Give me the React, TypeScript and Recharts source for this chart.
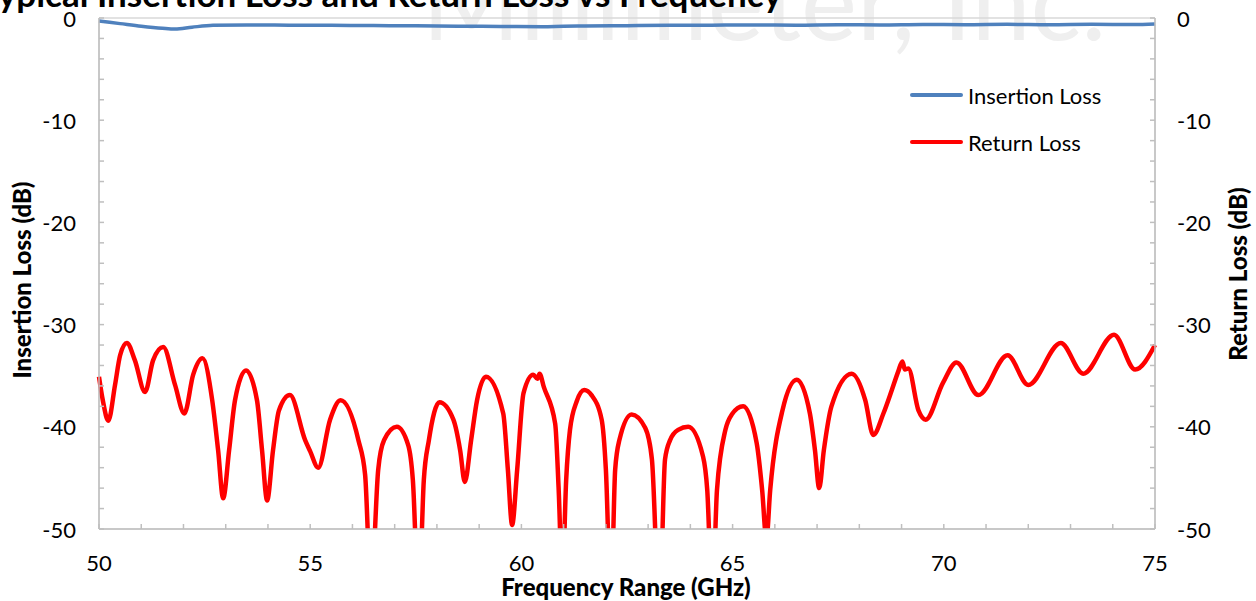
import React from 'react'
import { LineChart, Line, XAxis, YAxis, CartesianGrid, Legend } from 'recharts'

// return loss trace (GHz / dB)
const rlFreq = [
  50.0, 50.09, 50.22, 50.38, 50.5, 50.66, 50.85, 51.09, 51.28, 51.52, 51.8, 52.02, 52.23, 52.45,
  52.68, 52.82, 52.94, 53.08, 53.22, 53.48, 53.74, 53.86, 53.98, 54.12, 54.26, 54.52, 54.88, 55.0,
  55.19, 55.47, 55.72, 56.14, 56.3, 56.44, 56.61, 56.75, 57.05, 57.32, 57.43, 57.57, 57.69, 57.81,
  58.06, 58.39, 58.55, 58.66, 58.81, 58.95, 59.16, 59.57, 59.68, 59.78, 59.9, 60.05, 60.28, 60.38,
  60.43, 60.53, 60.8, 60.88, 60.97, 61.06, 61.15, 61.31, 61.49, 61.66, 61.9, 62.0, 62.12, 62.22,
  62.32, 62.61, 62.93, 63.09, 63.27, 63.4, 63.52, 63.71, 63.95, 64.3, 64.4, 64.52, 64.63, 64.83,
  64.98, 65.25, 65.57, 65.7, 65.8, 65.89, 66.18, 66.52, 66.83, 66.95, 67.05, 67.16, 67.34, 67.82,
  68.14, 68.33, 68.57, 68.77, 68.92, 69.02, 69.08, 69.16, 69.4, 69.57, 69.98, 70.3, 70.82, 71.51,
  72.0, 72.77, 73.3, 74.03, 74.53, 75.0,
]
const rlLoss = [
  -35.1, -37.4, -39.4, -35.9, -33.0, -31.8, -33.5, -36.6, -33.5, -32.2, -35.9, -38.7, -34.9, -33.3,
  -37.4, -42.3, -47.0, -42.3, -37.4, -34.5, -37.4, -42.3, -47.2, -42.3, -38.4, -36.9, -41.3, -42.4,
  -44.0, -39.3, -37.4, -41.3, -44.7, -56, -44.2, -41.3, -40.0, -41.8, -45.2, -57, -45.2, -41.3,
  -37.6, -39.3, -42.3, -45.4, -41.3, -37.4, -35.1, -38.7, -44.2, -49.6, -44.2, -36.7, -34.9, -35.3,
  -34.8, -36.1, -39.7, -45.9, -55, -45.2, -40.3, -37.5, -36.4, -36.9, -39.3, -44.2, -57, -44.2,
  -41.3, -38.8, -40.1, -43.2, -58, -43.2, -41.3, -40.3, -40.0, -42.9, -46.2, -57, -46.2, -40.3,
  -38.8, -38.0, -41.6, -46.2, -51, -46.2, -38.4, -35.4, -38.7, -42.3, -46.0, -42.3, -38.0, -34.8,
  -37.4, -40.8, -38.7, -36.4, -34.6, -33.6, -34.4, -34.3, -38.4, -39.3, -35.7, -33.7, -36.9, -33.0,
  -35.9, -31.8, -34.8, -31.0, -34.4, -32.0,
]

// insertion loss trace
const ilFreq = [
  50.0, 50.5, 51.0, 51.5, 51.8, 52.2, 52.7, 53.5, 54.5, 55.5, 56.5, 57.5, 58.5, 59.5, 60.5, 61.0,
  61.5, 62.5, 63.5, 64.5, 65.5, 66.5, 67.5, 68.5, 69.5, 70.5, 71.5, 72.5, 73.5, 74.5, 75.0,
]
const ilLoss = [
  -0.3, -0.55, -0.8, -1.0, -1.08, -0.9, -0.72, -0.68, -0.7, -0.72, -0.74, -0.76, -0.8, -0.82,
  -0.85, -0.8, -0.78, -0.75, -0.72, -0.7, -0.68, -0.7, -0.66, -0.68, -0.63, -0.66, -0.62, -0.66,
  -0.62, -0.64, -0.58,
]

const xTicks = [
  50, 51, 52, 53, 54, 55, 56, 57, 58, 59, 60, 61, 62, 63, 64, 65, 66, 67, 68, 69, 70, 71, 72, 73, 74, 75,
]
const xMajor = [50, 55, 60, 65, 70, 75]
const yTicks = [
  0, -2, -4, -6, -8, -10, -12, -14, -16, -18, -20, -22, -24, -26, -28, -30, -32, -34, -36, -38,
  -40, -42, -44, -46, -48, -50,
]
const yMajor = [0, -10, -20, -30, -40, -50]

const rlData = rlFreq.map((f, i) => ({ f, v: rlLoss[i] }))
const ilData = ilFreq.map((f, i) => ({ f, v: ilLoss[i] }))

const FONT = 'Lato, "Open Sans", sans-serif'
const AXIS = '#bfbfbf'
const GRID = '#d9d9d9'

const XTick = (props: any) => {
  const { x, y, payload } = props
  return (
    <g>
      <line x1={x} x2={x} y1={y} y2={y - 5} stroke={AXIS} strokeWidth={1.5} />
      {payload.value % 5 === 0 && (
        <text x={x} y={y + 33} textAnchor="middle" dominantBaseline="central" fontFamily={FONT} fontSize={22} fill="#000">
          {payload.value}
        </text>
      )}
    </g>
  )
}

const YTick = (props: any) => {
  const { x, y, payload, side } = props
  const dir = side === 'left' ? 1 : -1
  return (
    <g>
      <line x1={x} x2={x + dir * 5} y1={y} y2={y} stroke={AXIS} strokeWidth={1.5} />
      {payload.value % 10 === 0 && (
        <text
          x={side === 'left' ? x - 23 : x + 22}
          y={y}
          textAnchor={side === 'left' ? 'end' : 'start'}
          dominantBaseline="central"
          fontFamily={FONT}
          fontSize={22}
          fill="#000"
        >
          {payload.value}
        </text>
      )}
    </g>
  )
}

const AxisTitle = (props: any) => {
  const { viewBox, value, dx, dy, rotate } = props
  const cx = viewBox.x + dx
  const cy = viewBox.y + dy
  return (
    <text
      x={cx}
      y={cy}
      transform={rotate ? `rotate(-90 ${cx} ${cy})` : undefined}
      textAnchor="middle"
      dominantBaseline="central"
      fontFamily={FONT}
      fontWeight={900}
      fontSize={24}
      fill="#000"
    >
      {value}
    </text>
  )
}

const LegendBox = (props: any) => {
  const { payload } = props
  return (
    <div style={{ background: '#fff', width: 217, height: 95, position: 'relative', fontFamily: FONT, fontSize: 22 }}>
      {(payload || []).map((item: any, i: number) => (
        <div key={item.value} style={{ position: 'absolute', left: 17, top: 23 + i * 47 - 14, height: 28, display: 'flex', alignItems: 'center' }}>
          <div style={{ width: 53, height: 4, borderRadius: 2, background: item.color }} />
          <span style={{ marginLeft: 5, color: '#000' }}>{item.value}</span>
        </div>
      ))}
    </div>
  )
}

export default function App() {
  return (
    <div style={{ position: 'absolute', left: 0, top: 0, width: 1256, height: 601, background: '#fff', overflow: 'hidden' }}>
      <svg width={1256} height={601} style={{ position: 'absolute', left: 0, top: 0 }}>
        <text x={422} y={40} fontFamily={FONT} fontSize={106} fill="#efefef">
          Millimeter, Inc.
        </text>
      </svg>
      <div style={{ position: 'absolute', left: 0, top: 0 }}>
        <LineChart width={1256} height={601} margin={{ top: 18, right: 0, bottom: 0, left: 0 }}>
          <XAxis xAxisId="grid" type="number" dataKey="f" domain={[50, 75]} ticks={xMajor} height={0} hide />
          <YAxis yAxisId="grid" type="number" domain={[-50, 0]} ticks={yMajor} width={0} hide />
          <CartesianGrid xAxisId="grid" yAxisId="grid" stroke={GRID} strokeWidth={1.5} />
          <XAxis
            type="number"
            dataKey="f"
            domain={[50, 75]}
            ticks={xTicks}
            interval={0}
            height={72}
            stroke={AXIS}
            strokeWidth={1.5}
            tickLine={false}
            tickSize={0}
            tickMargin={0}
            tick={<XTick />}
            label={<AxisTitle value="Frequency Range (GHz)" dx={527} dy={57} />}
          />
          <YAxis
            yAxisId="left"
            type="number"
            domain={[-50, 0]}
            ticks={yTicks}
            interval={0}
            allowDataOverflow
            width={99}
            stroke={AXIS}
            strokeWidth={1.5}
            tickLine={false}
            tickSize={0}
            tickMargin={0}
            tick={<YTick side="left" />}
            label={<AxisTitle value="Insertion Loss (dB)" dx={21} dy={262} rotate />}
          />
          <YAxis
            yAxisId="right"
            orientation="right"
            type="number"
            domain={[-50, 0]}
            ticks={yTicks}
            interval={0}
            allowDataOverflow
            width={101}
            stroke={AXIS}
            strokeWidth={1.5}
            tickLine={false}
            tickSize={0}
            tickMargin={0}
            tick={<YTick side="right" />}
            label={<AxisTitle value="Return Loss (dB)" dx={82} dy={256} rotate />}
          />
          <Legend
            layout="vertical"
            align="center"
            verticalAlign="middle"
            content={<LegendBox />}
            wrapperStyle={{ left: 893, top: 72, width: 217, height: 95 }}
          />
          <Line
            yAxisId="left"
            data={ilData}
            dataKey="v"
            name="Insertion Loss"
            type="monotone"
            stroke="#4f81bd"
            strokeWidth={3.5}
            dot={false}
            isAnimationActive={false}
          />
          <Line
            yAxisId="left"
            data={rlData}
            dataKey="v"
            name="Return Loss"
            type="monotone"
            stroke="#ff0000"
            strokeWidth={4.5}
            dot={false}
            isAnimationActive={false}
          />
        </LineChart>
      </div>
      <svg width={1256} height={601} style={{ position: 'absolute', left: 0, top: 0, pointerEvents: 'none' }}>
        <text x={782} y={7} textAnchor="end" fontFamily={FONT} fontWeight="bold" fontSize={35} fill="#000">
          Typical Insertion Loss and Return Loss vs Frequency
        </text>
      </svg>
    </div>
  )
}
